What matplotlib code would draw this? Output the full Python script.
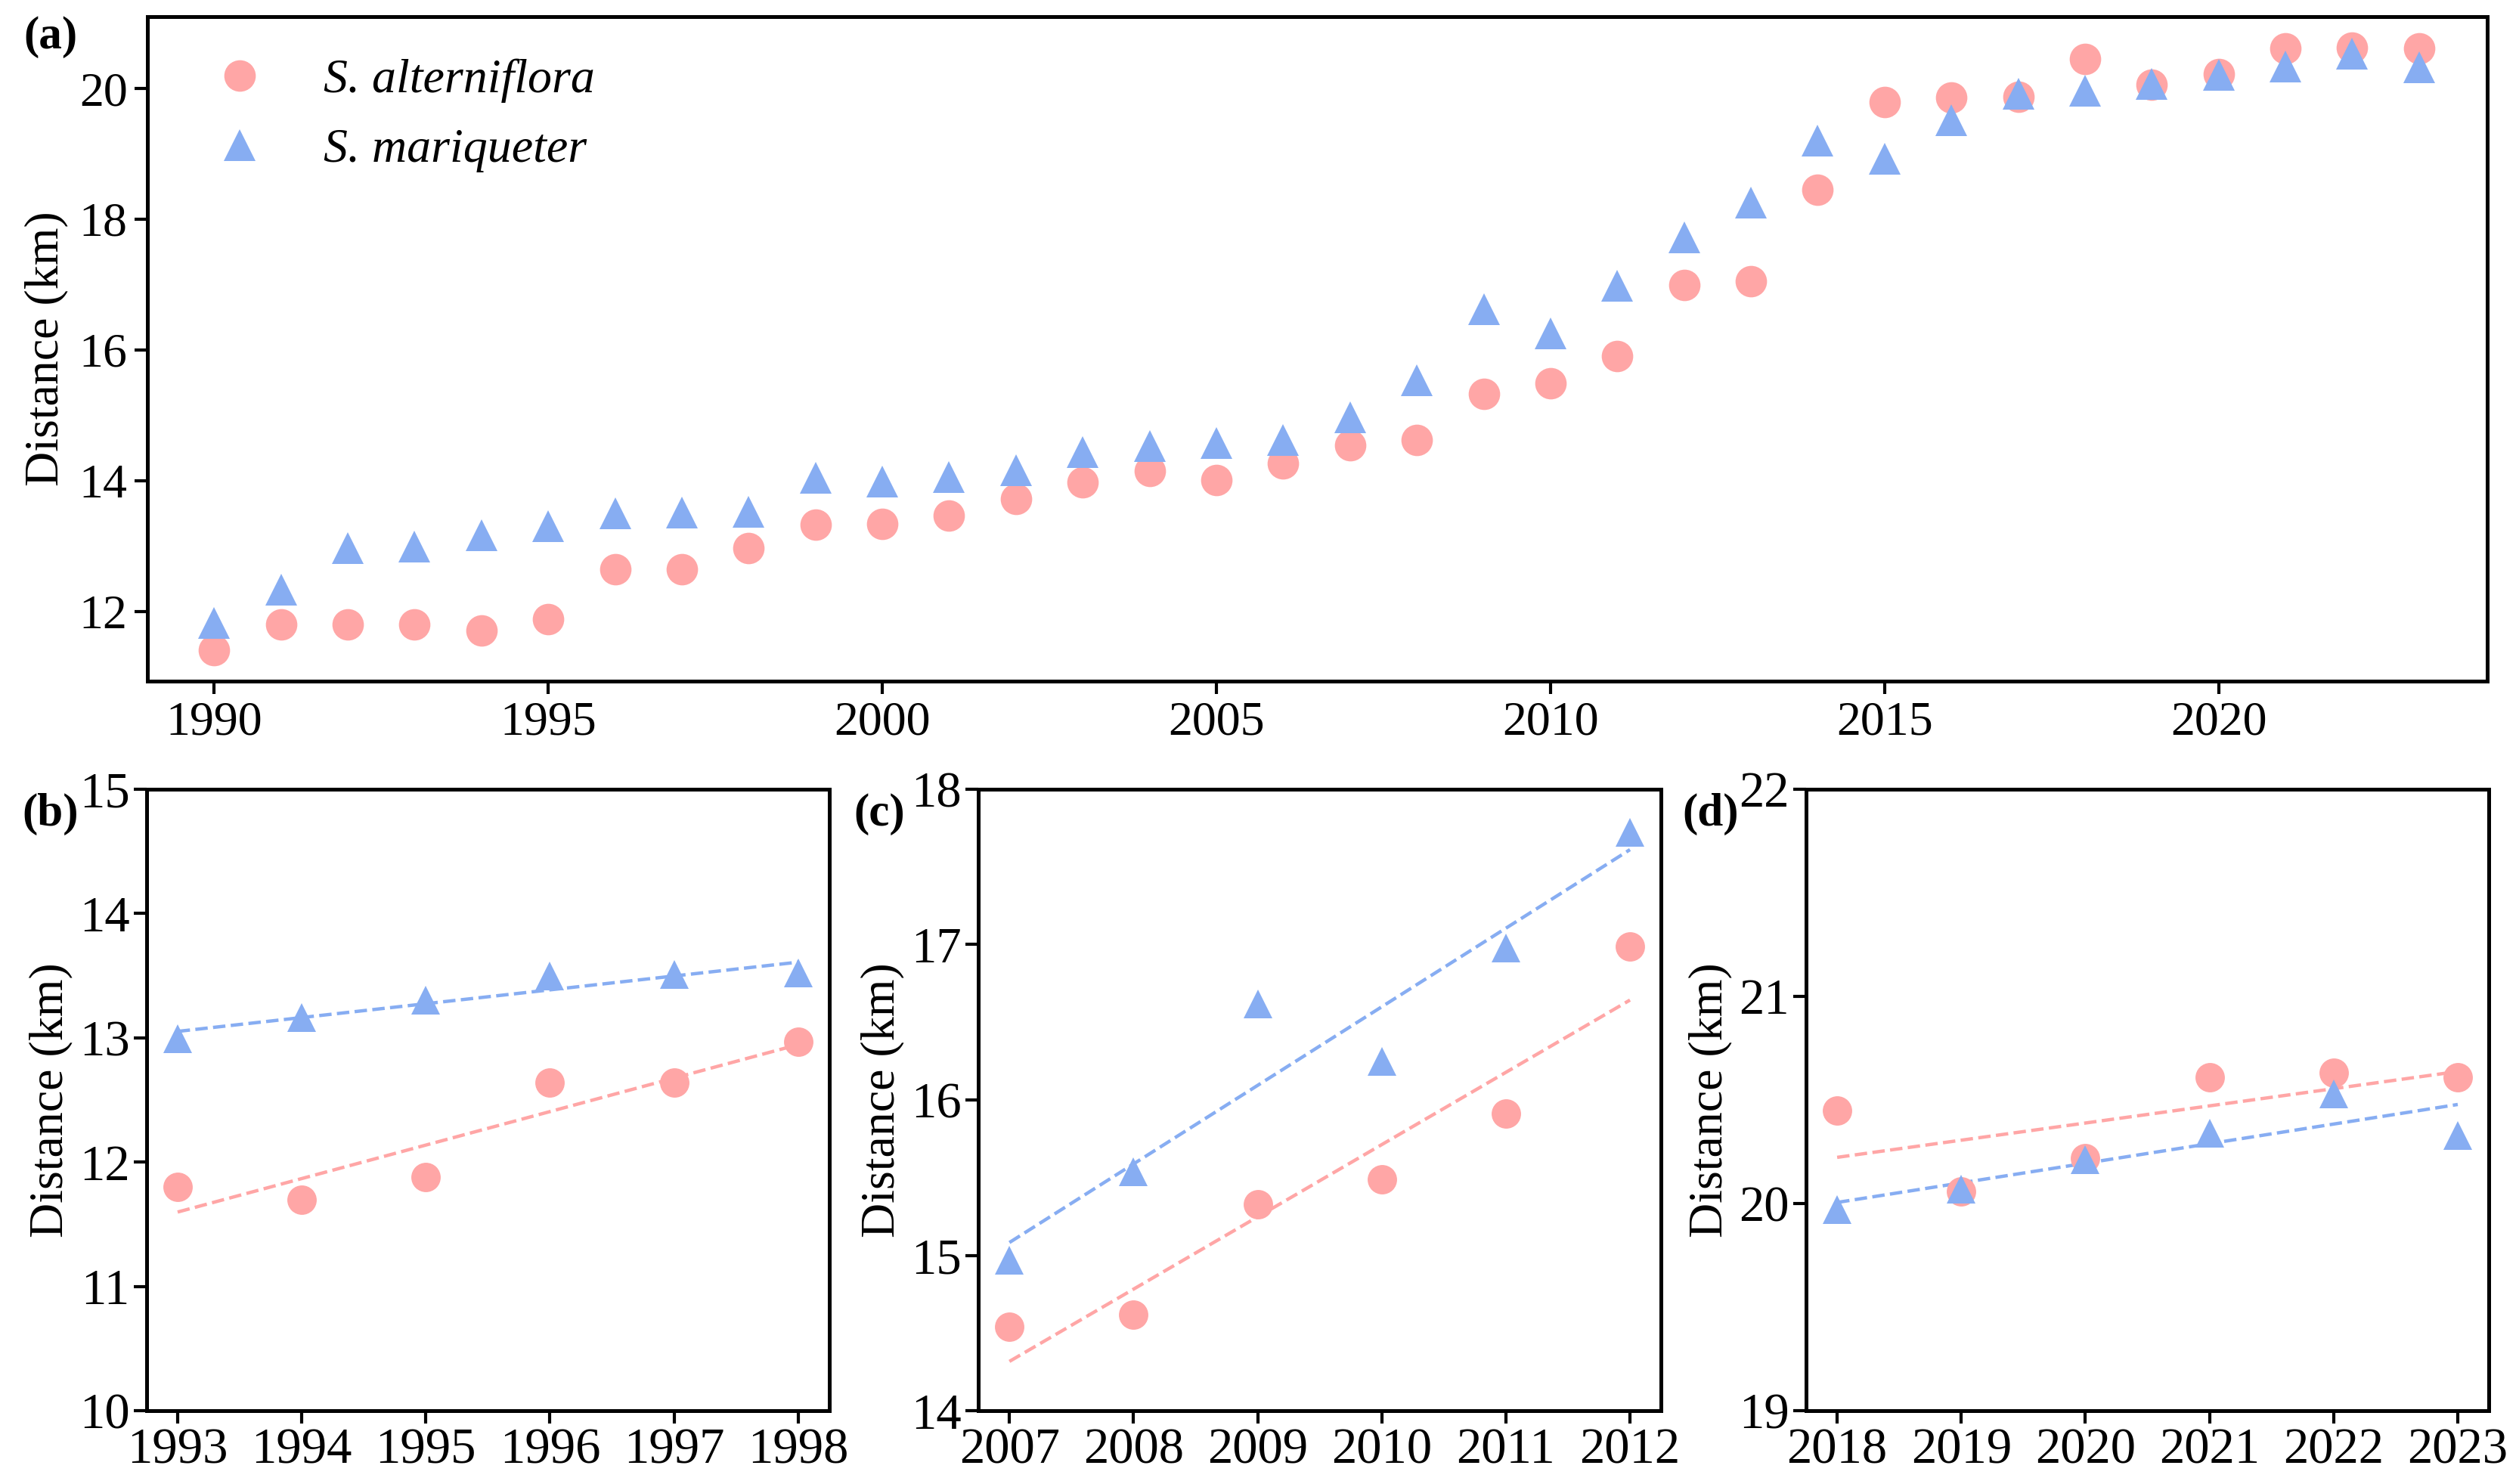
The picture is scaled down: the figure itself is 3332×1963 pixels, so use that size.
import matplotlib
matplotlib.use("Agg")
import matplotlib.pyplot as plt
import numpy as np

plt.rcParams["font.family"] = ["Liberation Serif", "DejaVu Serif"]

# Distance (km), one value per year 1990-2023
years = np.arange(1990, 2024)
alterniflora = [11.41, 11.80, 11.80, 11.80, 11.70, 11.88, 12.64, 12.64, 12.97, 13.33,
                13.34, 13.46, 13.72, 13.97, 14.15, 14.01, 14.26, 14.54, 14.62, 15.33,
                15.49, 15.91, 16.99, 17.05, 18.45, 19.79, 19.86, 19.87, 20.45, 20.06,
                20.22, 20.61, 20.63, 20.61]
mariqueter = [11.82, 12.33, 12.97, 12.99, 13.16, 13.30, 13.50, 13.51, 13.52, 14.04,
              13.99, 14.05, 14.16, 14.43, 14.53, 14.57, 14.62, 14.97, 15.54, 16.62,
              16.25, 16.98, 17.72, 18.25, 19.20, 18.92, 19.51, 19.92, 19.97, 20.07,
              20.21, 20.34, 20.53, 20.33]

labels = ["S. alterniflora", "S. mariqueter"]
panel_tags = ["(a)", "(b)", "(c)", "(d)"]

# sub-periods for the zoomed panels
periods = [(1993, 1998), (2007, 2012), (2018, 2023)]
period_ylims = [(10, 15), (14, 18), (19, 22)]

pink = "#FFA6A6"
blue = "#87ADF2"

fig = plt.figure(figsize=(16.66, 9.815), dpi=200)

# ---- top panel ----
ax = fig.add_axes([0.0585, 0.541, 0.9289, 0.4478])
ax.plot(years, alterniflora, "o", color=pink, markersize=15, mew=0, label=labels[0])
ax.plot(years, mariqueter, "^", color=blue, markersize=15, mew=0, label=labels[1])
ax.set_xlim(1989, 2024.02)
ax.set_ylim(10.93, 21.1)
ax.set_xticks([1990, 1995, 2000, 2005, 2010, 2015, 2020])
ax.set_yticks([12, 14, 16, 18, 20])
ax.tick_params(labelsize=23, width=1.5, length=6)
ax.set_ylabel("Distance (km)", fontsize=23, labelpad=5)
for s in ax.spines.values():
    s.set_linewidth(1.8)
ax.legend(loc="upper left", bbox_to_anchor=(0.0168, 0.966), frameon=False,
          prop={"size": 23, "style": "italic"}, handlelength=1.4,
          handletextpad=1.03, labelspacing=0.52, borderaxespad=0)
fig.text(0.0095, 0.975, panel_tags[0], fontsize=22, fontweight="bold",
         va="center", ha="left")

# ---- bottom panels ----
lefts = [0.0582, 0.3884, 0.717]
tag_x = [0.0087, 0.3388, 0.6678]
years_list = list(years)
for i, ((y0, y1), ylim) in enumerate(zip(periods, period_ylims)):
    a = fig.add_axes([lefts[i], 0.0494, 0.271, 0.4188])
    i0, i1 = years_list.index(y0), years_list.index(y1) + 1
    xs = years[i0:i1]
    ya = np.array(alterniflora[i0:i1])
    ym = np.array(mariqueter[i0:i1])
    # linear trend of each series over the sub-period
    for yy, col in ((ya, pink), (ym, blue)):
        k, b = np.polyfit(xs, yy, 1)
        a.plot(xs, k * xs + b, "--", color=col, lw=1.6, zorder=1)
    a.plot(xs, ya, "o", color=pink, markersize=14, mew=0, zorder=2)
    a.plot(xs, ym, "^", color=blue, markersize=14, mew=0, zorder=3)
    a.set_xlim(y0 - 0.25, y1 + 0.25)
    a.set_ylim(*ylim)
    a.set_xticks(list(xs))
    a.set_yticks(np.arange(ylim[0], ylim[1] + 1))
    a.tick_params(labelsize=24, width=1.5, length=6, pad=2)
    a.set_ylabel("Distance (km)", fontsize=23, labelpad=3)
    for s in a.spines.values():
        s.set_linewidth(1.8)
    fig.text(tag_x[i], 0.4513, panel_tags[i + 1], fontsize=22,
             fontweight="bold", va="center", ha="left")

fig.savefig("out.png", dpi=200)
